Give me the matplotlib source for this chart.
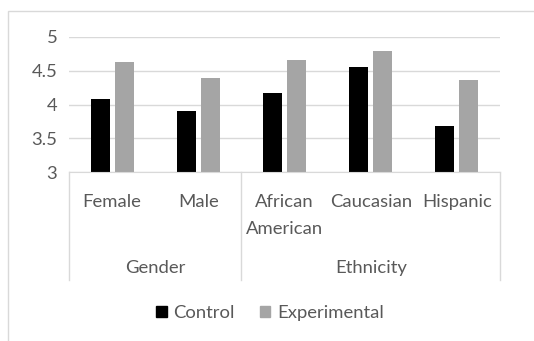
import matplotlib
matplotlib.use("Agg")
import matplotlib.pyplot as plt
from matplotlib.patches import Rectangle
from matplotlib.transforms import blended_transform_factory

groups = ["Gender", "Ethnicity"]
group_sizes = [2, 3]
categories = ["Female", "Male", "African\nAmerican", "Caucasian", "Hispanic"]
control = [4.08, 3.91, 4.17, 4.56, 3.69]
experimental = [4.63, 4.39, 4.66, 4.79, 4.36]
series_names = ["Control", "Experimental"]
y_ticks = [3, 3.5, 4, 4.5, 5]
y_tick_labels = ["3", "3.5", "4", "4.5", "5"]

W, H = 534, 341
DPI = 100
TEXT = "#595959"
GRID = "#D9D9D9"
FS = 13.3
plt.rcParams["font.family"] = ["Lato", "DejaVu Sans"]

fig = plt.figure(figsize=(W / DPI, H / DPI), dpi=DPI)

# outer chart frame
fig.patches.append(Rectangle((8 / W, -0.1), 2.0, 1 - 11 / H + 0.1,
                             transform=fig.transFigure, fill=False,
                             edgecolor=GRID, linewidth=1.0))

left, right, top, bottom = 69, 500, 36.7, 172.3
ax = fig.add_axes([left / W, 1 - bottom / H, (right - left) / W, (bottom - top) / H])

x = list(range(len(categories)))
bw = 0.22
off = 0.14
ax.bar([i - off for i in x], control, bw, color="#000000", zorder=3)
ax.bar([i + off for i in x], experimental, bw, color="#A5A5A5", zorder=3)

ax.set_xlim(-0.5, len(categories) - 0.5)
ax.set_ylim(3, 5)
ax.set_yticks(y_ticks)
ax.set_yticklabels(y_tick_labels, fontsize=FS, color=TEXT)
ax.yaxis.grid(True, color=GRID, linewidth=1.0, zorder=0)
ax.tick_params(axis="y", length=0, pad=8.5)
ax.set_xticks([])
for s in ["top", "right", "left"]:
    ax.spines[s].set_visible(False)
ax.spines["bottom"].set_color(GRID)
ax.spines["bottom"].set_zorder(4)

# hierarchical category axis
tr = blended_transform_factory(ax.transData, ax.transAxes)
ax_h = bottom - top
depth = -(280 - bottom) / ax_h
bounds = [-0.5]
for n in group_sizes:
    bounds.append(bounds[-1] + n)
for b in bounds:
    ax.plot([b, b], [0, depth], transform=tr, color=GRID, linewidth=1.0,
            clip_on=False)

for i, lab in enumerate(categories):
    ax.text(i, -(193.5 - bottom) / ax_h, lab, transform=tr, ha="center",
            va="top", fontsize=FS, color=TEXT, linespacing=1.85)

for g, (a, b) in zip(groups, zip(bounds[:-1], bounds[1:])):
    ax.text((a + b) / 2, -(268 - bottom) / ax_h, g, transform=tr,
            ha="center", va="center", fontsize=FS, color=TEXT)

handles = [Rectangle((0, 0), 1, 1, color=c) for c in ["#000000", "#A5A5A5"]]
fig.legend(handles, series_names, loc="center", bbox_to_anchor=(270 / W, 1 - 313 / H),
           ncol=2, frameon=False, fontsize=FS, handlelength=0.55, handleheight=0.55,
           handletextpad=0.35, columnspacing=1.4, labelcolor=TEXT)

fig.savefig("out.png", dpi=DPI)
